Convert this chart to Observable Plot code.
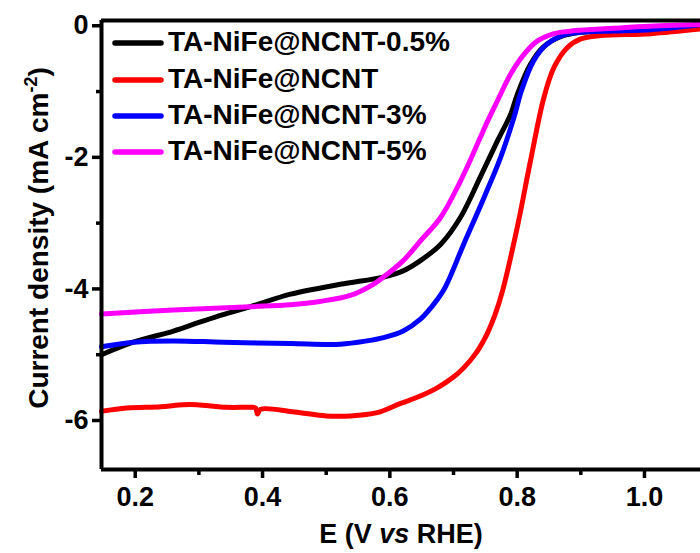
<!DOCTYPE html>
<html>
<head>
<meta charset="utf-8">
<script src="https://cdn.jsdelivr.net/npm/d3@7"></script>
<script src="https://cdn.jsdelivr.net/npm/@observablehq/plot@0.6"></script>
<style>
  html, body { margin: 0; padding: 0; background: #fff; }
  #chart svg { display: block; }
</style>
</head>
<body>
<div id="chart"></div>
<script>
// ---- data ----
const seriesNames = ["TA-NiFe@NCNT-0.5%", "TA-NiFe@NCNT", "TA-NiFe@NCNT-3%", "TA-NiFe@NCNT-5%"];
const seriesColors = ["#000000", "#ff0000", "#0000ff", "#ff00ff"];

const E_05 = [0.147, 0.197, 0.26, 0.30, 0.338, 0.381, 0.444, 0.522, 0.59, 0.62, 0.648, 0.68, 0.711, 0.742, 0.769, 0.790, 0.80, 0.82, 0.84, 0.87, 0.90, 0.95, 1.00, 1.088];
const J_05 = [-5.00, -4.81, -4.64, -4.51, -4.39, -4.27, -4.08, -3.93, -3.82, -3.73, -3.57, -3.32, -2.91, -2.30, -1.75, -1.34, -1.05, -0.60, -0.33, -0.16, -0.10, -0.07, -0.05, 0.02];

const E_0 = [0.147, 0.187, 0.24, 0.275, 0.297, 0.344, 0.381, 0.389, 0.392, 0.397, 0.45, 0.50, 0.538, 0.58, 0.617, 0.645, 0.675, 0.70, 0.716, 0.735, 0.747, 0.753, 0.765, 0.777, 0.80, 0.821, 0.842, 0.858, 0.879, 0.90, 0.931, 1.01, 1.088];
const J_0 = [-5.86, -5.81, -5.79, -5.76, -5.76, -5.80, -5.80, -5.81, -5.90, -5.83, -5.87, -5.93, -5.93, -5.88, -5.74, -5.64, -5.50, -5.34, -5.20, -4.98, -4.79, -4.68, -4.40, -4.03, -3.07, -2.05, -1.09, -0.63, -0.33, -0.20, -0.15, -0.12, -0.05];

const E_3 = [0.147, 0.197, 0.26, 0.338, 0.444, 0.522, 0.564, 0.59, 0.621, 0.648, 0.665, 0.685, 0.716, 0.748, 0.774, 0.795, 0.807, 0.826, 0.847, 0.874, 0.90, 0.95, 1.01, 1.088];
const J_3 = [-4.88, -4.81, -4.79, -4.81, -4.83, -4.84, -4.79, -4.74, -4.64, -4.46, -4.28, -4.01, -3.32, -2.61, -2.00, -1.39, -0.98, -0.53, -0.28, -0.14, -0.10, -0.08, -0.06, 0.015];

const E_5 = [0.147, 0.26, 0.381, 0.444, 0.49, 0.538, 0.574, 0.59, 0.621, 0.648, 0.68, 0.711, 0.727, 0.742, 0.755, 0.769, 0.79, 0.811, 0.832, 0.858, 0.885, 0.931, 1.00, 1.088];
const J_5 = [-4.38, -4.32, -4.27, -4.24, -4.19, -4.10, -3.93, -3.82, -3.57, -3.27, -2.91, -2.36, -2.03, -1.70, -1.42, -1.14, -0.73, -0.43, -0.23, -0.12, -0.08, -0.05, -0.01, 0.02];

const xDomain = [0.147, 1.088];
const yDomain = [-6.745, 0.08];
const xMajorTicks = [0.2, 0.4, 0.6, 0.8, 1.0];
const xMinorTicks = [0.3, 0.5, 0.7, 0.9];
const yMajorTicks = [-6, -4, -2, 0];
const yMinorTicks = [-5, -3, -1];

// ---- build table ----
const seriesE = [E_05, E_0, E_3, E_5];
const seriesJ = [J_05, J_0, J_3, J_5];
const rows = seriesNames.flatMap((name, k) => seriesE[k].map((e, i) => ({series: name, E: e, j: seriesJ[k][i]})));

const font = "'Liberation Sans', Arial, sans-serif";

const chart = Plot.plot({
  width: 700,
  height: 553,
  marginLeft: 101,
  marginRight: 0,
  marginTop: 20,
  marginBottom: 84,
  style: {fontFamily: font, fontWeight: "bold", fontSize: "27px", color: "#000", background: "#fff", overflow: "visible"},
  x: {domain: xDomain},
  y: {domain: yDomain},
  color: {domain: seriesNames, range: seriesColors},
  marks: [
    Plot.line(rows, {x: "E", y: "j", z: "series", stroke: "series", strokeWidth: 5, curve: "catmull-rom", strokeLinejoin: "round", strokeLinecap: "round"}),
    Plot.ruleX([xDomain[0]], {strokeWidth: 4, stroke: "#000"}),
    Plot.ruleY([yDomain[0]], {strokeWidth: 4, stroke: "#000"}),
    Plot.ruleY([yDomain[1]], {strokeWidth: 4, stroke: "#000"}),
    Plot.axisX({ticks: xMajorTicks, tickSize: 9, tickPadding: 8, tickFormat: d3.format(".1f"), strokeWidth: 3.5, label: null}),
    Plot.axisX({ticks: xMinorTicks, tickSize: 6, tickFormat: () => "", strokeWidth: 3.5, label: null}),
    Plot.axisY({ticks: yMajorTicks, tickSize: 9, tickPadding: 4, tickFormat: d => d3.format("d")(d).replace("−", "-"), strokeWidth: 3.5, label: null}),
    Plot.axisY({ticks: yMinorTicks, tickSize: 5, tickFormat: () => "", strokeWidth: 3.5, label: null})
  ]
});

document.getElementById("chart").appendChild(chart);

// ---- titles and legend ----
const svg = d3.select(chart);

// x axis title
const xt = svg.append("text")
  .attr("x", 401).attr("y", 543)
  .attr("text-anchor", "middle")
  .attr("font-family", font).attr("font-weight", "bold").attr("font-size", 27)
  .attr("fill", "#000");
xt.append("tspan").text("E (V ");
xt.append("tspan").attr("font-style", "italic").text("vs");
xt.append("tspan").text(" RHE)");

// y axis title
const yt = svg.append("text")
  .attr("transform", "translate(48,238) rotate(-90)")
  .attr("text-anchor", "middle")
  .attr("font-family", font).attr("font-weight", "bold").attr("font-size", 28)
  .attr("fill", "#000");
yt.append("tspan").text("Current density (mA cm");
yt.append("tspan").attr("font-size", 18).attr("dy", -11).text("-2");
yt.append("tspan").attr("dy", 11).text(")");

// legend
const legendRowY = [43, 80, 116, 152];
const lg = svg.append("g").attr("text-anchor", "start");
seriesNames.forEach((name, i) => {
  lg.append("line")
    .attr("x1", 115).attr("x2", 161)
    .attr("y1", legendRowY[i]).attr("y2", legendRowY[i])
    .attr("stroke", seriesColors[i]).attr("stroke-width", 5.5).attr("stroke-linecap", "round");
  lg.append("text")
    .attr("x", 168).attr("y", legendRowY[i] + 8)
    .attr("text-anchor", "start")
    .attr("font-family", font).attr("font-weight", "bold").attr("font-size", 28)
    .attr("fill", "#000")
    .text(name);
});
</script>
</body>
</html>
